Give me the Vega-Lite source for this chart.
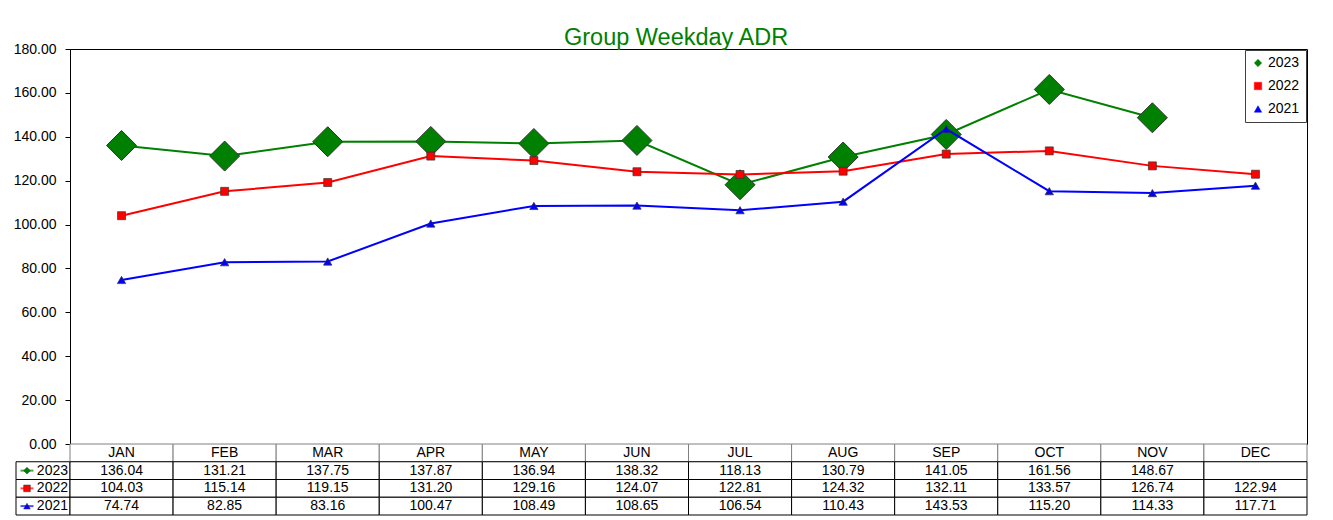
{
  "$schema": "https://vega.github.io/schema/vega-lite/v6.json",
  "padding": {"left": 12, "top": 26, "right": 5, "bottom": 2},
  "background": "white",
  "title": {"text": "Group Weekday ADR", "color": "#008000", "fontSize": 23.5, "fontWeight": "normal", "font": "Liberation Sans", "anchor": "middle", "offset": -8, "dx": 16},
  "config": {"font": "Liberation Sans", "view": {"stroke": "black", "strokeWidth": 1}},
  "datasets": {
    "adr": [
      {"month": "JAN", "year": "2023", "adr": 136.04},
      {"month": "FEB", "year": "2023", "adr": 131.21},
      {"month": "MAR", "year": "2023", "adr": 137.75},
      {"month": "APR", "year": "2023", "adr": 137.87},
      {"month": "MAY", "year": "2023", "adr": 136.94},
      {"month": "JUN", "year": "2023", "adr": 138.32},
      {"month": "JUL", "year": "2023", "adr": 118.13},
      {"month": "AUG", "year": "2023", "adr": 130.79},
      {"month": "SEP", "year": "2023", "adr": 141.05},
      {"month": "OCT", "year": "2023", "adr": 161.56},
      {"month": "NOV", "year": "2023", "adr": 148.67},
      {"month": "DEC", "year": "2023", "adr": null},
      {"month": "JAN", "year": "2022", "adr": 104.03},
      {"month": "FEB", "year": "2022", "adr": 115.14},
      {"month": "MAR", "year": "2022", "adr": 119.15},
      {"month": "APR", "year": "2022", "adr": 131.20},
      {"month": "MAY", "year": "2022", "adr": 129.16},
      {"month": "JUN", "year": "2022", "adr": 124.07},
      {"month": "JUL", "year": "2022", "adr": 122.81},
      {"month": "AUG", "year": "2022", "adr": 124.32},
      {"month": "SEP", "year": "2022", "adr": 132.11},
      {"month": "OCT", "year": "2022", "adr": 133.57},
      {"month": "NOV", "year": "2022", "adr": 126.74},
      {"month": "DEC", "year": "2022", "adr": 122.94},
      {"month": "JAN", "year": "2021", "adr": 74.74},
      {"month": "FEB", "year": "2021", "adr": 82.85},
      {"month": "MAR", "year": "2021", "adr": 83.16},
      {"month": "APR", "year": "2021", "adr": 100.47},
      {"month": "MAY", "year": "2021", "adr": 108.49},
      {"month": "JUN", "year": "2021", "adr": 108.65},
      {"month": "JUL", "year": "2021", "adr": 106.54},
      {"month": "AUG", "year": "2021", "adr": 110.43},
      {"month": "SEP", "year": "2021", "adr": 143.53},
      {"month": "OCT", "year": "2021", "adr": 115.20},
      {"month": "NOV", "year": "2021", "adr": 114.33},
      {"month": "DEC", "year": "2021", "adr": 117.71}
    ]
  },
  "data": {"name": "adr"},
  "columns": 2,
  "spacing": 0,
  "bounds": "flush",
  "align": "each",
  "resolve": {"scale": {"color": "independent", "shape": "independent", "x": "independent", "y": "independent"}, "legend": {"color": "independent", "shape": "independent"}},
  "concat": [
    {
      "width": 54, "height": 395,
      "view": {"stroke": null},
      "data": {"values": []},
      "mark": {"type": "text"},
      "encoding": {}
    },
    {
      "width": 1237, "height": 395,
      "encoding": {
        "x": {"field": "month", "type": "nominal", "sort": null, "scale": {"type": "point", "padding": 0.5, "domain": ["JAN","FEB","MAR","APR","MAY","JUN","JUL","AUG","SEP","OCT","NOV","DEC"]}, "axis": null},
        "y": {"field": "adr", "type": "quantitative", "scale": {"domain": [0, 180], "nice": false},
          "axis": {"values": [0,20,40,60,80,100,120,140,160,180], "format": ".2f", "grid": false, "title": null, "domainColor": "black", "tickColor": "black", "tickSize": 5, "labelPadding": 9, "labelFontSize": 14, "labelColor": "black", "labelFont": "Liberation Sans"}},
        "color": {"field": "year", "type": "nominal", "scale": {"domain": ["2023","2022","2021"], "range": ["#008000","#FF0000","#0000FF"]},
          "legend": {"title": null, "orient": "top-right", "offset": 1, "strokeColor": "#404040", "fillColor": "white", "padding": 6, "rowPadding": 9, "labelFontSize": 14, "labelFont": "Liberation Sans", "labelColor": "black", "symbolSize": 55, "symbolStrokeColor": "#333", "symbolStrokeWidth": 0.5, "labelOffset": 3}},
        "shape": {"field": "year", "type": "nominal", "scale": {"domain": ["2023","2022","2021"], "range": ["diamond","square","triangle-up"]}}
      },
      "layer": [
        {"transform": [{"filter": "datum.year == '2023'"}], "mark": {"type": "line", "strokeWidth": 2}, "encoding": {"shape": null}},
        {"transform": [{"filter": "datum.year == '2023' && datum.adr != null"}], "mark": {"type": "point", "filled": true, "opacity": 1, "size": 900, "stroke": "#333", "strokeWidth": 1}},
        {"transform": [{"filter": "datum.year == '2022'"}], "mark": {"type": "line", "strokeWidth": 2}, "encoding": {"shape": null}},
        {"transform": [{"filter": "datum.year == '2022'"}], "mark": {"type": "point", "filled": true, "opacity": 1, "size": 64, "stroke": "#333", "strokeWidth": 0.7}},
        {"transform": [{"filter": "datum.year == '2021'"}], "mark": {"type": "line", "strokeWidth": 2}, "encoding": {"shape": null}},
        {"transform": [{"filter": "datum.year == '2021'"}], "mark": {"type": "point", "filled": true, "opacity": 1, "size": 70, "stroke": "#333", "strokeWidth": 0.7}}
      ]
    },
    {
      "width": 54, "height": 71,
      "view": {"stroke": null},
      "transform": [{"filter": "datum.month == 'JAN'"}],
      "encoding": {
        "y": {"field": "year", "type": "nominal", "sort": null, "scale": {"domain": ["MONTH","2023","2022","2021"], "paddingInner": 0, "paddingOuter": 0}, "axis": null}
      },
      "layer": [
        {"mark": {"type": "rect", "fill": "white", "stroke": "black", "strokeWidth": 1}},
        {"mark": {"type": "tick", "orient": "horizontal", "thickness": 2, "size": 13, "xOffset": -16},
          "encoding": {"color": {"field": "year", "type": "nominal", "scale": {"domain": ["2023","2022","2021"], "range": ["#008000","#FF0000","#0000FF"]}, "legend": null}}},
        {"mark": {"type": "point", "filled": true, "opacity": 1, "size": 45, "xOffset": -16, "stroke": "#333", "strokeWidth": 0.5},
          "encoding": {
            "color": {"field": "year", "type": "nominal", "scale": {"domain": ["2023","2022","2021"], "range": ["#008000","#FF0000","#0000FF"]}, "legend": null},
            "shape": {"field": "year", "type": "nominal", "scale": {"domain": ["2023","2022","2021"], "range": ["diamond","square","triangle-up"]}, "legend": null}}},
        {"mark": {"type": "text", "align": "right", "dx": 25, "fontSize": 14, "color": "black"}, "encoding": {"text": {"field": "year"}}}
      ]
    },
    {
      "width": 1237, "height": 71,
      "view": {"stroke": null},
      "encoding": {
        "x": {"field": "month", "type": "nominal", "sort": null, "scale": {"domain": ["JAN","FEB","MAR","APR","MAY","JUN","JUL","AUG","SEP","OCT","NOV","DEC"], "paddingInner": 0, "paddingOuter": 0}, "axis": null}
      },
      "layer": [
        {"transform": [{"filter": "datum.year == '2022'"}], "mark": {"type": "rect", "fill": "white", "stroke": "#808080", "strokeWidth": 1},
          "encoding": {"y": {"datum": "MONTH", "type": "nominal", "scale": {"domain": ["MONTH","2023","2022","2021"], "paddingInner": 0, "paddingOuter": 0}, "axis": null}}},
        {"mark": {"type": "rect", "fill": "white", "stroke": "black", "strokeWidth": 1},
          "encoding": {"y": {"field": "year", "type": "nominal", "sort": null}}},
        {"transform": [{"filter": "datum.year == '2022'"}], "mark": {"type": "text", "fontSize": 14, "color": "black"},
          "encoding": {"y": {"datum": "MONTH", "type": "nominal"}, "text": {"field": "month"}}},
        {"transform": [{"filter": "datum.adr != null"}], "mark": {"type": "text", "fontSize": 14, "color": "black"},
          "encoding": {"y": {"field": "year", "type": "nominal", "sort": null}, "text": {"field": "adr", "format": ".2f"}}}
      ]
    }
  ]
}
